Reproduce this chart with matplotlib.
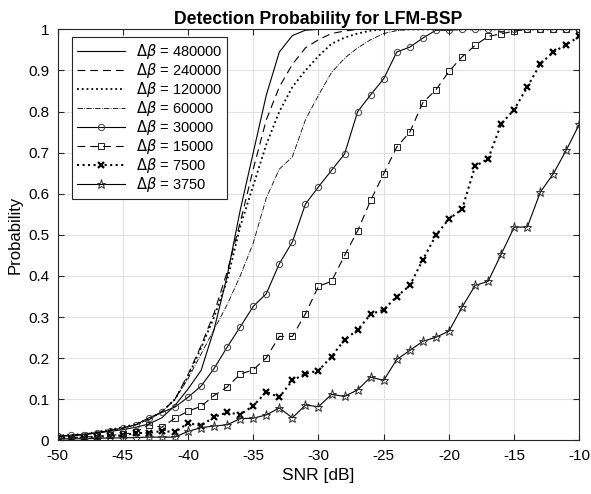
import numpy as np
import matplotlib
matplotlib.use('Agg')
import matplotlib.pyplot as plt

plt.rcParams['font.family'] = ['Liberation Sans', 'DejaVu Sans']
plt.rcParams['mathtext.fontset'] = 'dejavusans'
plt.rcParams['axes.unicode_minus'] = False

# SNR axis, 1 dB step
snr = list(range(-50, -9))

p_480000 = [0.010, 0.012, 0.014, 0.018, 0.022, 0.026, 0.032, 0.040, 0.055, 0.085,
            0.125, 0.170, 0.270, 0.400, 0.560, 0.700, 0.840, 0.945, 0.985, 0.998,
            1, 1, 1, 1, 1, 1, 1, 1, 1, 1, 1, 1, 1, 1, 1, 1, 1, 1, 1, 1, 1]
p_240000 = [0.010, 0.012, 0.015, 0.020, 0.025, 0.030, 0.038, 0.050, 0.070, 0.100,
            0.160, 0.230, 0.310, 0.410, 0.530, 0.660, 0.780, 0.860, 0.915, 0.955,
            0.975, 0.990, 0.996, 1, 1, 1, 1, 1, 1, 1, 1, 1, 1, 1, 1, 1, 1, 1, 1, 1, 1]
p_120000 = [0.012, 0.013, 0.016, 0.020, 0.026, 0.032, 0.040, 0.052, 0.070, 0.100,
            0.155, 0.225, 0.300, 0.390, 0.520, 0.620, 0.720, 0.800, 0.860, 0.900,
            0.935, 0.965, 0.980, 0.990, 0.997, 1, 1, 1, 1, 1, 1, 1, 1, 1, 1, 1, 1, 1, 1, 1, 1]
p_60000 = [0.010, 0.012, 0.015, 0.019, 0.024, 0.030, 0.038, 0.050, 0.070, 0.100,
           0.150, 0.210, 0.270, 0.330, 0.400, 0.480, 0.590, 0.660, 0.690, 0.780,
           0.840, 0.895, 0.930, 0.955, 0.975, 0.990, 0.997, 1, 1, 1, 1, 1, 1, 1, 1, 1, 1, 1, 1, 1, 1]
p_30000 = [0.010, 0.012, 0.014, 0.018, 0.024, 0.030, 0.038, 0.055, 0.068, 0.081,
           0.105, 0.132, 0.175, 0.227, 0.276, 0.326, 0.357, 0.430, 0.483, 0.575,
           0.617, 0.657, 0.697, 0.800, 0.841, 0.880, 0.945, 0.957, 0.979, 0.998,
           0.998, 1, 1, 1, 1, 1, 1, 1, 1, 1, 1]
p_15000 = [0.005, 0.007, 0.008, 0.010, 0.012, 0.015, 0.020, 0.038, 0.032, 0.054,
           0.071, 0.083, 0.109, 0.130, 0.161, 0.172, 0.201, 0.253, 0.253, 0.308,
           0.375, 0.387, 0.450, 0.510, 0.584, 0.649, 0.714, 0.750, 0.822, 0.853,
           0.898, 0.933, 0.961, 0.983, 0.989, 0.996, 1, 1, 1, 1, 1]
p_7500 = [0.005, 0.006, 0.007, 0.009, 0.010, 0.012, 0.018, 0.018, 0.023, 0.020,
          0.042, 0.036, 0.057, 0.068, 0.063, 0.084, 0.118, 0.105, 0.146, 0.162,
          0.170, 0.204, 0.245, 0.269, 0.307, 0.318, 0.350, 0.377, 0.440, 0.499,
          0.539, 0.562, 0.667, 0.685, 0.770, 0.805, 0.860, 0.916, 0.945, 0.963, 0.983]
p_3750 = [0.003, 0.004, 0.004, 0.005, 0.006, 0.006, 0.007, 0.008, 0.008, 0.008,
          0.022, 0.031, 0.035, 0.038, 0.053, 0.054, 0.062, 0.079, 0.055, 0.086,
          0.082, 0.112, 0.107, 0.123, 0.154, 0.146, 0.197, 0.219, 0.241, 0.251,
          0.266, 0.324, 0.377, 0.387, 0.453, 0.519, 0.519, 0.604, 0.649, 0.707, 0.770]

labels = ['480000', '240000', '120000', '60000', '30000', '15000', '7500', '3750']

fig = plt.figure(figsize=(5.91, 4.94), dpi=100)
ax = fig.add_axes([0.0973, 0.1085, 0.8832, 0.832])

dash = (7, 4.5)
ax.plot(snr, p_480000, '-', color='k', lw=0.8, label=r'$\Delta\beta$ = ' + labels[0])
ax.plot(snr, p_240000, '--', color='k', lw=0.8, dashes=dash, label=r'$\Delta\beta$ = ' + labels[1])
ax.plot(snr, p_120000, ':', color='k', lw=1.3, label=r'$\Delta\beta$ = ' + labels[2])
ax.plot(snr, p_60000, '-.', color='k', lw=0.6, label=r'$\Delta\beta$ = ' + labels[3])
ax.plot(snr, p_30000, '-', color='k', lw=0.8, marker='o', ms=4.5, mfc='none',
        mec='#404040', mew=0.7, label=r'$\Delta\beta$ = ' + labels[4])
ax.plot(snr, p_15000, '--', color='k', lw=0.8, dashes=dash, marker='s', ms=4.5, mfc='none',
        mec='#202020', mew=0.7, label=r'$\Delta\beta$ = ' + labels[5])
ax.plot(snr, p_7500, ':', color='k', lw=1.5, marker='x', ms=5, mew=1.6,
        label=r'$\Delta\beta$ = ' + labels[6])
ax.plot(snr, p_3750, '-', color='k', lw=0.8, marker='*', ms=6.5, mfc='none',
        mec='#303030', mew=0.7, label=r'$\Delta\beta$ = ' + labels[7])

ax.set_xlim(-50, -10)
ax.set_ylim(0, 1)
ax.set_xticks(np.arange(-50, -9, 5))
ax.set_yticks(np.arange(0, 1.01, 0.1))
ax.set_yticklabels(['0', '0.1', '0.2', '0.3', '0.4', '0.5', '0.6', '0.7', '0.8', '0.9', '1'])
ax.grid(True, color='#e2e2e2', lw=0.8)
ax.set_axisbelow(True)
ax.tick_params(direction='in', top=True, right=True, labelsize=11, length=4,
               color='#262626', pad=6)
for s in ax.spines.values():
    s.set_color('#262626')
    s.set_linewidth(0.8)

ax.set_xlabel('SNR [dB]', fontsize=12.5)
ax.set_ylabel('Probability', fontsize=12)
ax.set_title('Detection Probability for LFM-BSP', fontsize=12.7, fontweight='bold', pad=4)

leg = ax.legend(loc='upper left', bbox_to_anchor=(0.028, 0.9815), borderaxespad=0,
                fontsize=10.5, handlelength=3.3, frameon=True, fancybox=False,
                edgecolor='#262626', labelspacing=0.0, handletextpad=0.7,
                borderpad=0.35, framealpha=1)
leg.get_frame().set_linewidth(0.8)

plt.savefig('out.png', dpi=100)
